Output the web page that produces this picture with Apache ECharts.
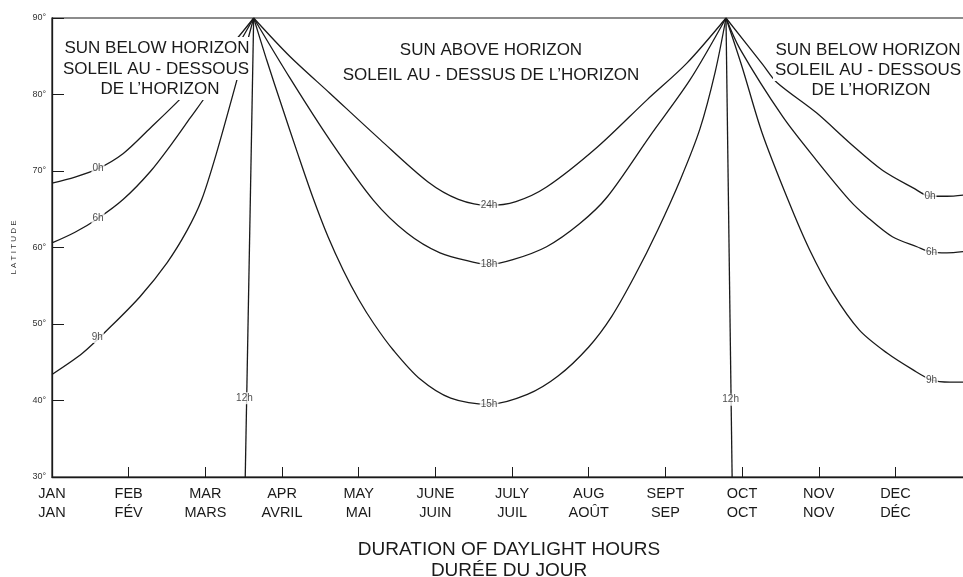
<!DOCTYPE html>
<html>
<head>
<meta charset="utf-8">
<title>Duration of daylight hours</title>
<script src="https://cdn.jsdelivr.net/npm/echarts@6/dist/echarts.min.js"></script>
<style>
  html, body { margin: 0; padding: 0; background: #fff; }
  #chart { width: 963px; height: 577px; }
</style>
</head>
<body>
<div id="chart"></div>
<script>
// x = months since 1 January, y = latitude (degrees)
const monthsEn = ['JAN', 'FEB', 'MAR', 'APR', 'MAY', 'JUNE', 'JULY', 'AUG', 'SEPT', 'OCT', 'NOV', 'DEC'];
const monthsFr = ['JAN', 'FÉV', 'MARS', 'AVRIL', 'MAI', 'JUIN', 'JUIL', 'AOÛT', 'SEP', 'OCT', 'NOV', 'DÉC'];

// winter curves, January side
const jan0h = [[0, 68.4], [0.3, 69.2], [0.6, 70.3], [0.93, 72.3], [1.28, 75.6], [1.67, 79.4], [2.0, 83.0], [2.36, 86.7], [2.63, 90]];
const jan6h = [[0, 60.6], [0.3, 62.0], [0.6, 63.8], [0.93, 66.3], [1.28, 69.9], [1.58, 73.8], [1.8, 76.9], [2.02, 80.0], [2.44, 86.7], [2.63, 90]];
const jan9h = [[0, 43.4], [0.4, 46.2], [0.76, 49.6], [1.15, 53.6], [1.5, 58.0], [1.76, 62.2], [1.95, 66.2], [2.15, 72.5], [2.42, 82.2], [2.63, 90]];

// equinox lines
const march12h = [[2.52, 30], [2.63, 90]];
const sept12h = [[8.87, 30], [8.79, 90]];

// summer curves
const summer15h = [[2.63, 90], [2.8, 84.5], [3.0, 78.4], [3.2, 72.4], [3.4, 66.6], [3.6, 61.4], [3.8, 57.0], [4.0, 53.2], [4.2, 50.0], [4.45, 46.6], [4.8, 42.8], [5.2, 40.3], [5.7, 39.5], [6.2, 40.8], [6.6, 43.2], [7.0, 47.0], [7.3, 51.0], [7.6, 56.3], [7.9, 62.3], [8.2, 69.0], [8.45, 75.5], [8.65, 83.0], [8.79, 90]];
const summer18h = [[2.63, 90], [3.1, 82.2], [3.62, 74.1], [4.19, 66.2], [4.63, 61.9], [5.06, 59.3], [5.49, 58.1], [5.7, 57.8], [6.01, 58.4], [6.45, 60.1], [6.88, 63.1], [7.24, 66.6], [7.8, 74.6], [8.32, 81.9], [8.79, 90]];
const summer24h = [[2.63, 90], [3.1, 85.0], [3.62, 80.2], [4.28, 74.1], [4.9, 68.6], [5.3, 66.3], [5.7, 65.5], [6.05, 66.0], [6.45, 67.9], [7.11, 73.1], [7.76, 79.3], [8.28, 84.1], [8.79, 90]];

// winter curves, December side
const dec0h = [[8.79, 90], [9.27, 83.9], [9.45, 81.6], [9.97, 77.6], [10.4, 73.7], [10.83, 70.1], [11.23, 67.8], [11.45, 66.7], [11.67, 66.7], [11.92, 66.9]];
const dec6h = [[8.79, 90], [8.97, 86.0], [9.53, 77.1], [9.97, 71.4], [10.4, 66.2], [10.63, 64.0], [10.96, 61.4], [11.28, 60.1], [11.47, 59.4], [11.67, 59.3], [11.92, 59.5]];
const dec9h = [[8.79, 90], [9.0, 83.6], [9.26, 75.0], [9.6, 66.2], [9.88, 59.7], [10.18, 54.1], [10.53, 49.2], [10.89, 46.2], [11.23, 44.0], [11.47, 42.7], [11.71, 42.4], [11.92, 42.4]];

// hour labels sitting on the curves: [month, latitude, text]
const hourLabels = [
  [0.6, 70.3, '0h'], [0.6, 63.8, '6h'], [0.59, 48.3, '9h'],
  [2.51, 40.3, '12h'], [8.85, 40.1, '12h'],
  [5.7, 39.5, '15h'], [5.7, 57.8, '18h'], [5.7, 65.5, '24h'],
  [11.45, 66.7, '0h'], [11.47, 59.4, '6h'], [11.47, 42.7, '9h']
];

const INK = '#1a1a1a';
const FONT = '"Liberation Sans", Arial, sans-serif';

const chart = echarts.init(document.getElementById('chart'));

const curve = (name, data) => ({
  name: name,
  type: 'line',
  data: data,
  smooth: 0.3,
  showSymbol: false,
  silent: true,
  lineStyle: { color: INK, width: 1.3 },
  z: 2
});

const bigText = (text, x, y) => ({
  type: 'text',
  x: x,
  y: y,
  z: 100,
  style: {
    text: text,
    fill: INK,
    font: '17px ' + FONT,
    align: 'center',
    verticalAlign: 'middle',
    backgroundColor: '#fff',
    padding: [3, 2, 2, 2]
  }
});

const option = {
  animation: false,
  backgroundColor: '#fff',
  grid: {
    left: 52,
    right: -3,
    top: 18,
    bottom: 100,
    outerBoundsMode: 'none',
    containLabel: false,
    show: true,
    borderColor: INK,
    borderWidth: 1.2
  },
  xAxis: {
    type: 'value',
    min: 0,
    max: 11.92,
    interval: 1,
    splitLine: { show: false },
    axisLine: { lineStyle: { color: INK, width: 1.3 } },
    axisTick: { inside: true, length: 10, lineStyle: { color: INK } },
    axisLabel: {
      margin: 7,
      fontFamily: FONT,
      fontSize: 14.5,
      lineHeight: 19,
      color: INK,
      formatter: v => Number.isInteger(v) && v < 12 ? monthsEn[v] + '\n' + monthsFr[v] : ''
    },
    name: 'DURATION OF DAYLIGHT HOURS\nDURÉE DU JOUR',
    nameLocation: 'middle',
    nameGap: 62,
    nameTextStyle: { fontFamily: FONT, fontSize: 19, lineHeight: 21, color: INK }
  },
  yAxis: {
    type: 'value',
    min: 30,
    max: 90,
    interval: 10,
    splitLine: { show: false },
    axisLine: { lineStyle: { color: INK, width: 1.3 } },
    axisTick: { inside: true, length: 12, lineStyle: { color: INK } },
    axisLabel: {
      margin: 6,
      fontFamily: FONT,
      fontSize: 9,
      color: '#333',
      formatter: v => v + '°'
    },
    name: 'L A T I T U D E',
    nameLocation: 'middle',
    nameRotate: 90,
    nameGap: 34,
    nameTextStyle: { fontFamily: FONT, fontSize: 8, color: '#333' }
  },
  series: [
    curve('0h Jan', jan0h),
    curve('6h Jan', jan6h),
    curve('9h Jan', jan9h),
    curve('12h Mar', march12h),
    curve('12h Sep', sept12h),
    curve('15h', summer15h),
    curve('18h', summer18h),
    curve('24h', summer24h),
    curve('0h Dec', dec0h),
    curve('6h Dec', dec6h),
    curve('9h Dec', dec9h),
    {
      name: 'hour labels',
      type: 'scatter',
      data: hourLabels,
      symbolSize: 1,
      itemStyle: { color: 'rgba(0,0,0,0)' },
      silent: true,
      z: 5,
      label: {
        show: true,
        position: 'inside',
        formatter: p => p.data[2],
        fontFamily: FONT,
        fontSize: 10,
        color: INK,
        backgroundColor: '#fff',
        padding: [1, 1]
      }
    }
  ],
  graphic: [
    bigText('SUN BELOW HORIZON', 157, 48),
    bigText('SOLEIL AU - DESSOUS', 156, 69),
    bigText('DE L\u2019HORIZON', 160, 89),
    bigText('SUN ABOVE HORIZON', 491, 50),
    bigText('SOLEIL AU - DESSUS DE L\u2019HORIZON', 491, 75),
    bigText('SUN BELOW HORIZON', 868, 50),
    bigText('SOLEIL AU - DESSOUS', 868, 70),
    bigText('DE L\u2019HORIZON', 871, 90)
  ]
};

chart.setOption(option);
</script>
</body>
</html>
